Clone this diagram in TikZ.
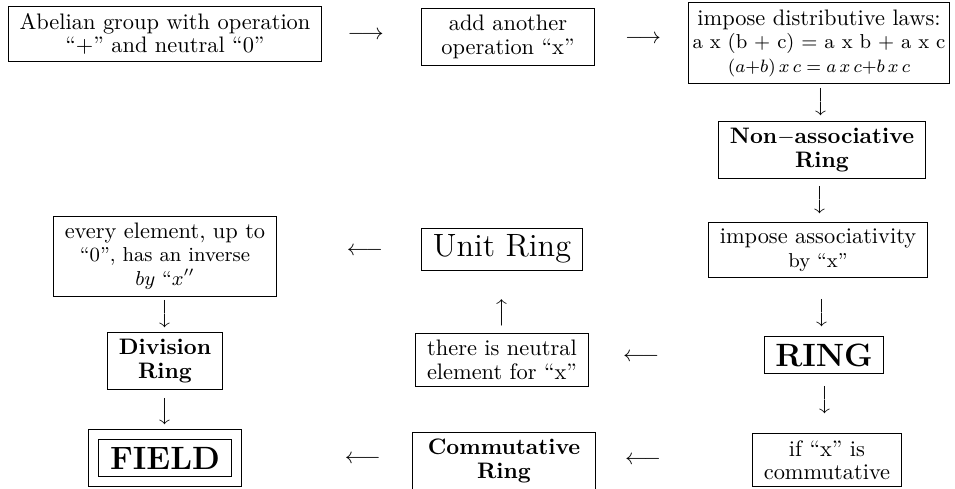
\documentclass[tikz,border=0pt]{standalone}
\usepackage{amsmath}
\usepackage{amssymb}

\begin{document}
\begin{tikzpicture}[x=0.4464pt,y=-0.4464pt,arr/.style={inner sep=0pt}]
            \useasboundingbox (0,0) rectangle (955,488);
            \begin{scope}[every node/.style={draw=black,align=center,inner xsep=5pt,inner ysep=3pt,
                    font=\fontsize{10pt}{10.5pt}\selectfont}]
                \node (abel) at (165,34) {Abelian group with operation\\``$+$'' and neutral ``0''};
                \node[minimum width=77pt] (addop) at (508,37) {add another\\operation ``x''};
                \node[inner xsep=2pt] (distr) at (819,43) {impose distributive laws:\\{\small a x (b + c) = a x b + a x c}\\{\footnotesize $(a{+}b)\,x\,c = a\,x\,c{+}b\,x\,c$}};
                \node (nonassoc) at (822,150) {\textbf{Non$-$associative}\\\textbf{Ring}};
                \node (assoc) at (818,250) {impose associativity\\{\small by ``x''}};
                \node (ring) at (824,355) {\Large\bfseries RING};
                \node (ifcomm) at (827,460) {if ``x'' is\\commutative};
                \node[minimum width=82pt] (commring) at (504,461) {\textbf{Commutative}\\\textbf{Ring}};
                \node[double,double distance=4pt,inner xsep=7.5pt,inner ysep=5.6pt] (field) at (165,458) {\Large\bfseries FIELD};
                \node (division) at (165,361) {\textbf{Division}\\\textbf{Ring}};
                \node (every) at (165,256) {every element, up to\\{\small ``0'', has an inverse}\\{\small $by$ ``$x''$}};
                \node (unit) at (502,249) {\Large Unit Ring};
                \node (neutral) at (502,360) {there is neutral\\element for ``x''};
            \end{scope}
            \path (abel) -- node[arr,pos=.44] {$\longrightarrow$} (addop);
            \path (addop) -- node[arr,pos=.52] {$\longrightarrow$} (distr);
            \path (distr) -- node[arr] {$\big\downarrow$} (nonassoc);
            \path (nonassoc) -- node[arr] {$\big\downarrow$} (assoc);
            \path (assoc) -- node[arr,pos=.6] {$\big\downarrow$} (ring);
            \path (ring) -- node[arr,pos=.45] {$\big\downarrow$} (ifcomm);
            \path (ifcomm) -- node[arr,pos=.7] {$\longleftarrow$} (commring);
            \path (commring) -- node[arr,pos=.28] {$\longleftarrow$} (field);
            \path (ring) -- node[arr,pos=.7] {$\longleftarrow$} (neutral);
            \path (neutral) -- node[arr,pos=.33] {$\big\uparrow$} (unit);
            \path (unit) -- node[arr,pos=.39] {$\longleftarrow$} (every);
            \path (every) -- node[arr] {$\big\downarrow$} (division);
            \path (division) -- node[arr] {$\big\downarrow$} (field);
        \end{tikzpicture}
\end{document}
